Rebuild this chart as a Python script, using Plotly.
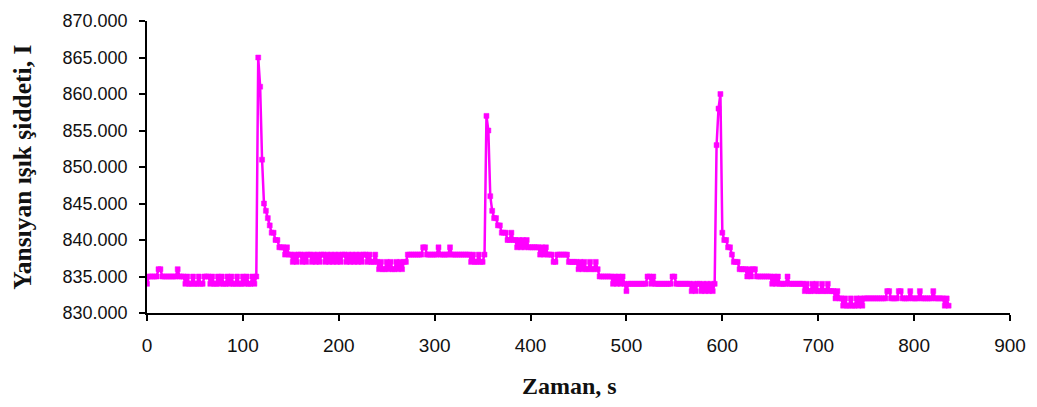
import plotly.graph_objects as go

# Reflected light intensity recorded every 2 seconds
SAMPLE_STEP_S = 2

intensity = [
    834, 835, 835, 835, 835, 835, 836, 836, 835, 835,   # 0-18 s
    835, 835, 835, 835, 835, 835, 836, 835, 835, 835,   # 20-38 s
    834, 835, 834, 834, 835, 834, 834, 835, 834, 834,   # 40-58 s
    835, 835, 835, 834, 835, 834, 834, 835, 834, 835,   # 60-78 s
    834, 834, 835, 834, 835, 834, 834, 835, 834, 834,   # 80-98 s
    835, 834, 835, 834, 834, 835, 834, 835, 865, 861,   # 100-118 s
    851, 845, 844, 843, 842, 841, 841, 840, 840, 839,   # 120-138 s
    839, 839, 838, 839, 838, 838, 837, 838, 837, 838,   # 140-158 s
    838, 837, 838, 837, 838, 838, 837, 838, 837, 838,   # 160-178 s
    837, 838, 838, 837, 838, 837, 838, 837, 838, 837,   # 180-198 s
    838, 837, 838, 838, 837, 838, 837, 838, 837, 838,   # 200-218 s
    837, 838, 837, 838, 838, 837, 838, 837, 837, 838,   # 220-238 s
    837, 836, 837, 836, 836, 837, 836, 837, 836, 836,   # 240-258 s
    837, 836, 837, 836, 837, 837, 838, 838, 838, 838,   # 260-278 s
    838, 838, 838, 838, 839, 839, 838, 838, 838, 838,   # 280-298 s
    838, 838, 839, 838, 838, 838, 838, 838, 839, 838,   # 300-318 s
    838, 838, 838, 838, 838, 838, 838, 838, 838, 837,   # 320-338 s
    838, 837, 837, 838, 837, 837, 838, 857, 855, 846,   # 340-358 s
    844, 843, 843, 842, 842, 841, 841, 841, 840, 840,   # 360-378 s
    841, 840, 840, 839, 840, 839, 840, 839, 840, 839,   # 380-398 s
    839, 839, 839, 839, 839, 838, 839, 838, 839, 838,   # 400-418 s
    838, 838, 837, 837, 838, 838, 838, 838, 838, 838,   # 420-438 s
    837, 837, 837, 837, 837, 836, 837, 836, 837, 836,   # 440-458 s
    836, 837, 836, 836, 837, 836, 835, 835, 835, 835,   # 460-478 s
    835, 835, 835, 834, 835, 834, 835, 834, 835, 834,   # 480-498 s
    833, 834, 834, 834, 834, 834, 834, 834, 834, 834,   # 500-518 s
    834, 835, 835, 834, 835, 834, 834, 834, 834, 834,   # 520-538 s
    834, 834, 834, 834, 835, 835, 834, 834, 834, 834,   # 540-558 s
    834, 834, 834, 834, 833, 834, 833, 834, 834, 833,   # 560-578 s
    834, 833, 834, 833, 834, 833, 834, 853, 858, 860,   # 580-598 s
    841, 840, 840, 839, 839, 838, 837, 837, 837, 836,   # 600-618 s
    836, 836, 836, 835, 836, 835, 836, 836, 835, 835,   # 620-638 s
    835, 835, 835, 835, 835, 835, 834, 835, 834, 835,   # 640-658 s
    834, 834, 834, 834, 835, 834, 834, 834, 834, 834,   # 660-678 s
    834, 834, 834, 833, 834, 833, 833, 834, 833, 834,   # 680-698 s
    833, 833, 834, 833, 833, 834, 833, 833, 833, 832,   # 700-718 s
    833, 832, 832, 831, 832, 831, 831, 832, 831, 831,   # 720-738 s
    832, 831, 832, 831, 832, 832, 832, 832, 832, 832,   # 740-758 s
    832, 832, 832, 832, 832, 832, 833, 833, 832, 832,   # 760-778 s
    832, 832, 833, 833, 832, 832, 832, 832, 833, 832,   # 780-798 s
    832, 832, 832, 833, 832, 832, 832, 832, 832, 832,   # 800-818 s
    833, 832, 832, 832, 832, 832, 831, 832, 831,        # 820-836 s
]
time_s = [i * SAMPLE_STEP_S for i in range(len(intensity))]

x_ticks = [0, 100, 200, 300, 400, 500, 600, 700, 800, 900]
y_ticks = [830, 835, 840, 845, 850, 855, 860, 865, 870]

x_title = "Zaman, s"
y_title = "Yansıyan ışık şiddeti, I"

MAGENTA = "#FF00FF"
TICK_FONT = "Liberation Sans, Arial, sans-serif"
TITLE_FONT = "Liberation Serif, Times New Roman, serif"

fig = go.Figure()
fig.add_trace(go.Scatter(
    x=time_s,
    y=intensity,
    mode="lines+markers",
    line=dict(color=MAGENTA, width=2.5),
    marker=dict(symbol="square", size=5, color=MAGENTA,
                line=dict(color=MAGENTA, width=0.5)),
    showlegend=False,
    hoverinfo="x+y",
))

fig.update_layout(
    width=1037,
    height=407,
    margin=dict(l=147, r=25, t=11, b=94),
    paper_bgcolor="white",
    plot_bgcolor="white",
    xaxis=dict(
        range=[0, 900],
        tickvals=x_ticks,
        showgrid=False,
        zeroline=False,
        showline=True,
        linecolor="black",
        linewidth=1.5,
        ticks="outside",
        ticklen=6,
        tickwidth=1.5,
        tickcolor="black",
        ticklabelstandoff=8,
        tickfont=dict(family=TICK_FONT, size=19, color="#111"),
    ),
    yaxis=dict(
        range=[830, 870],
        tickvals=y_ticks,
        tickformat=".3f",
        showgrid=False,
        zeroline=False,
        showline=True,
        linecolor="black",
        linewidth=1.5,
        ticks="outside",
        ticklen=6,
        tickwidth=1.5,
        tickcolor="black",
        ticklabelstandoff=8,
        tickfont=dict(family=TICK_FONT, size=18, color="#111"),
    ),
    annotations=[
        dict(text=f"<b>{x_title}</b>", xref="paper", yref="paper",
             x=0.49, y=-0.2, xanchor="center", yanchor="top",
             showarrow=False,
             font=dict(family=TITLE_FONT, size=24, color="#111")),
        dict(text=f"<b>{y_title}</b>", xref="paper", yref="paper",
             x=-0.145, y=0.5, xanchor="center", yanchor="middle",
             textangle=-90, showarrow=False,
             font=dict(family=TITLE_FONT, size=25.5, color="#111")),
    ],
)

fig.write_html("out.html")
